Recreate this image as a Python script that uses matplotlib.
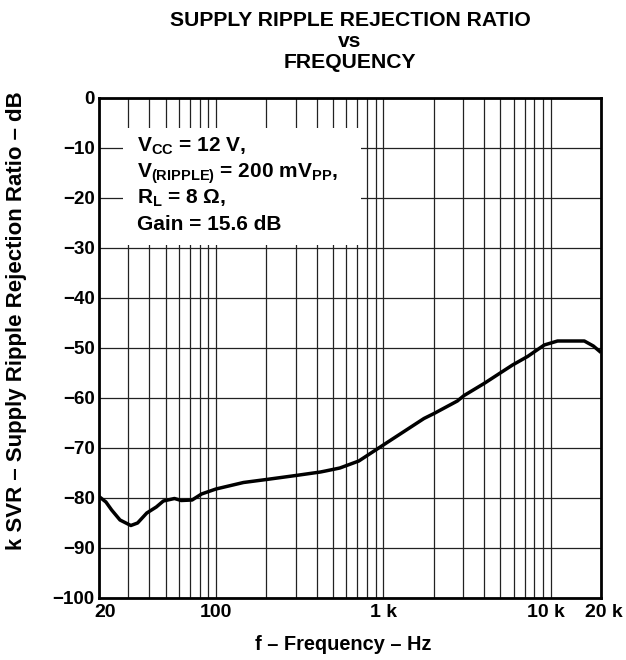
import matplotlib
matplotlib.use("Agg")
import matplotlib.pyplot as plt
from matplotlib.patches import Rectangle
from matplotlib.ticker import FixedLocator, NullFormatter
import matplotlib.transforms as mtransforms

plt.rcParams['font.family'] = ['Liberation Sans', 'DejaVu Sans']
plt.rcParams['font.weight'] = 'bold'
plt.rcParams['mathtext.fontset'] = 'custom'
plt.rcParams['mathtext.rm'] = 'Liberation Sans:bold'
plt.rcParams['mathtext.it'] = 'Liberation Sans:bold'
plt.rcParams['mathtext.bf'] = 'Liberation Sans:bold'
plt.rcParams['axes.unicode_minus'] = True

# ---- data ----
freq_hz = [20, 22, 23.8, 26.7, 31, 34, 38.6, 44, 48.5, 56.5, 62, 72, 82, 100,
           146, 200, 300, 421, 451, 550, 714, 1000, 1750, 2010, 2770, 3040,
           4000, 5920, 7280, 9160, 11000, 15900, 18000, 20000]
ksvr_db = [-79.7, -80.8, -82.4, -84.4, -85.5, -85.0, -83.0, -81.8, -80.6, -80.1,
           -80.5, -80.4, -79.2, -78.2, -76.9, -76.3, -75.5, -74.8, -74.6, -74.0,
           -72.6, -69.4, -64.1, -63.1, -60.6, -59.5, -57.1, -53.4, -51.7, -49.4,
           -48.6, -48.6, -49.6, -50.9]

xtick_vals = [20, 100, 1000, 10000, 20000]
xtick_labels = ['20', '100', '1 k', '10 k', '20 k']
xtick_shift_px = [6, 0, 0, -4.5, 3]
xgrid_vals = [20, 30, 40, 50, 60, 70, 80, 90, 100, 200, 300, 400, 500, 600, 700,
              800, 900, 1000, 2000, 3000, 4000, 5000, 6000, 7000, 8000, 9000,
              10000, 20000]
ytick_vals = list(range(-100, 1, 10))
ytick_labels = ['\u2212100', '\u221290', '\u221280', '\u221270', '\u221260', '\u221250',
                '\u221240', '\u221230', '\u221220', '\u221210', '0']

title_lines = ['SUPPLY RIPPLE REJECTION RATIO', 'vs', 'FREQUENCY']
note_lines = [r'V$_{\rm CC}$ = 12 V,',
              r'V$_{\rm (RIPPLE)}$ = 200 mV$_{\rm PP}$,',
              r'R$_{\rm L}$ = 8 Ω,',
              'Gain = 15.6 dB']

fig = plt.figure(figsize=(6.26, 6.60), dpi=100)
ax = fig.add_axes([99/626, 1-598/660, 502/626, 500/660])
ax.set_xscale('log')
ax.set_xlim(20, 20000)
ax.set_ylim(-100, 0)

# grid
ax.xaxis.set_major_locator(FixedLocator(xgrid_vals))
ax.xaxis.set_minor_locator(FixedLocator([]))
ax.xaxis.set_major_formatter(NullFormatter())
ax.xaxis.set_minor_formatter(NullFormatter())
ax.set_yticks(ytick_vals)
ax.set_yticklabels(ytick_labels, fontsize=13.5, fontweight='bold')
ax.grid(True, which='major', color='#222222', linewidth=0.9)
ax.tick_params(axis='both', length=0, pad=3)

# x tick labels as text at tick positions with small offsets
for v, lab, dx in zip(xtick_vals, xtick_labels, xtick_shift_px):
    tr = mtransforms.blended_transform_factory(ax.transData, ax.transAxes) + \
        mtransforms.ScaledTranslation(dx/100, 0, fig.dpi_scale_trans)
    ax.text(v, -0.012, lab, transform=tr, ha='center', va='top',
            fontsize=14, fontweight='bold', clip_on=False)

for s in ax.spines.values():
    s.set_linewidth(2.0)
    s.set_color('black')
    s.set_zorder(5)

# note box
ax.add_patch(Rectangle((24/502, 1-(245-98)/500), (361-123)/502, (245-128)/500,
                       transform=ax.transAxes, facecolor='white', edgecolor='none',
                       zorder=2.5))
for i, t in enumerate(note_lines):
    ax.text(38/502, 1-(152 + i*26 - 98)/500, t, transform=ax.transAxes,
            ha='left', va='baseline', fontsize=15, fontweight='bold', zorder=3)

ax.plot(freq_hz, ksvr_db, color='black', linewidth=2.5, zorder=4,
        solid_capstyle='butt', solid_joinstyle='round')

fig.text(343/626, 1-645/660, 'f \u2013 Frequency \u2013 Hz', ha='center', va='center',
         fontsize=14.4, fontweight='bold')
fig.text(17/626, 1-321/660, 'k SVR \u2013 Supply Ripple Rejection Ratio \u2013 dB',
         rotation=90, ha='center', va='center', fontsize=16, fontweight='bold')

for i, t in enumerate(title_lines):
    fig.text(350/626, 1-(26 + i*21)/660, t, ha='center', va='baseline',
             fontsize=15.2, fontweight='bold')

fig.savefig('out.png', dpi=100)
